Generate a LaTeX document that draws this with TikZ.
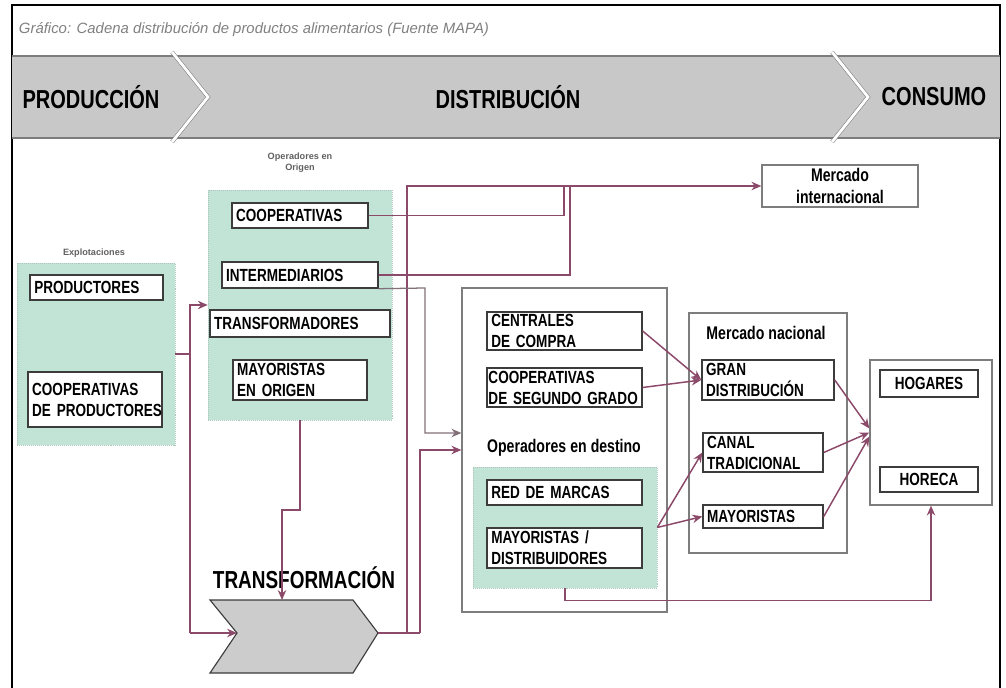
\documentclass[tikz,border=0pt]{standalone}
\usepackage{fontspec}
\usetikzlibrary{arrows.meta,positioning,calc}
\newfontfamily\condfont[FakeStretch=0.77]{Liberation Sans}
\newfontfamily\plainfont{Liberation Sans}
\newcommand{\boxfont}{\condfont\bfseries\fontsize{12.5}{15}\selectfont\hyphenpenalty=10000 \fontdimen2\font=2.7pt\relax}
\newcommand{\labfont}{\condfont\bfseries\fontsize{13}{15}\selectfont\fontdimen2\font=2.9pt\relax}
\newcommand{\bannerfont}{\condfont\bfseries\fontsize{18.5}{20}\selectfont}
\newcommand{\tagfont}{\plainfont\bfseries\fontsize{6.5}{8}\selectfont}

\definecolor{mint}{RGB}{194,228,214}
\definecolor{flowc}{RGB}{140,74,106}
\definecolor{boxline}{RGB}{60,60,60}
\definecolor{bigline}{RGB}{125,125,125}
\definecolor{bannerc}{RGB}{200,200,200}

\begin{document}
\begin{tikzpicture}[x=0.025cm,y=-0.025cm,
  >={Stealth[length=7pt,width=6pt]},
  item/.style={draw=boxline,line width=1pt,fill=white,font=\boxfont,
    align=left,inner xsep=3pt,inner ysep=0pt},
  greenbox/.style={fill=mint,draw=mint!70!gray,densely dotted,inner sep=0pt},
  bigbox/.style={draw=bigline,line width=0.9pt,fill=white,inner sep=0pt},
  flow/.style={draw=flowc,line width=1.05pt},
  greyflow/.style={draw=gray!70!flowc,line width=0.9pt},
  tag/.style={font=\tagfont,text=gray!75!black,align=center}]

\useasboundingbox (0,0) rectangle (1006,688);

% frame and title
\draw[line width=1.4pt] (12,688) -- (12,5) -- (1000,5) -- (1000,688);
\node[font=\plainfont\itshape\fontsize{10.6}{12}\selectfont,text=gray,anchor=west] (title) at (14,30)
  {Gráfico: Cadena distribución de productos alimentarios (Fuente MAPA)};

% banner
\fill[bannerc] (12,56) rectangle (1000,138);
\draw[bigline,line width=0.8pt] (12,56) -- (1000,56) (12,138) -- (1000,138);
\draw[gray,double=white,double distance=2pt] (172,52) -- (208,97) -- (172,142);
\draw[gray,double=white,double distance=2pt] (832,52) -- (868,97) -- (832,142);
\node[font=\bannerfont] (prodn) at (91,97) {PRODUCCIÓN};
\node[font=\bannerfont] (distr) at (508,97) {DISTRIBUCIÓN};
\node[font=\bannerfont] (consu) at (934,97) {CONSUMO};

% explotaciones
\node[tag] (explotag) at (94,253) {Explotaciones};
\node[greenbox,minimum width=3.95cm,minimum height=4.55cm] (explo) at (96,354) {};
\node[item,text width=3.11cm,minimum height=0.625cm] (prod) at (96.5,287.5) {PRODUCTORES};
\node[item,text width=3.14cm,minimum height=1.375cm] (coopprod) at (95,399.5) {COOPERATIVAS\\DE~PRODUCTORES};

% operadores en origen
\node[tag] (origtag) at (300,163) {Operadores en\\Origen};
\node[greenbox,minimum width=4.6cm,minimum height=5.75cm] (origen) at (300,305) {};
\node[item,text width=3.19cm,minimum height=0.625cm] (coop) at (300,215.5) {COOPERATIVAS};
\node[item,text width=3.69cm,minimum height=0.65cm] (interm) at (300,275) {INTERMEDIARIOS};
\node[item,text width=4.29cm,minimum height=0.675cm] (transf) at (300,323.5) {TRANSFORMADORES};
\node[item,text width=3.14cm,minimum height=1cm] (mayorig) at (300,380) {MAYORISTAS\\EN~ORIGEN};

% transformacion
\coordinate (tnotch) at (237,633);
\coordinate (ttip) at (378,633);
\coordinate (ttop) at (282,600);
\filldraw[fill=gray!40,draw=boxline,line width=0.8pt]
  (210,600) -- (353,600) -- (ttip) -- (353,673) -- (210,673) -- (tnotch) -- cycle;
\node[font=\condfont\bfseries\fontsize{17.5}{19}\selectfont] (transtxt) at (304,578) {TRANSFORMACIÓN};

% mercado internacional
\node[bigbox,font=\labfont,align=center,minimum width=3.9cm,minimum height=1.05cm] (intl) at (840,186) {Mercado\\internacional};

% operadores en destino
\node[bigbox,minimum width=5.125cm,minimum height=8.1cm] (destino) at (564.5,450) {};
\node[item,text width=3.66cm,minimum height=0.95cm] (centr) at (564.5,331) {CENTRALES\\DE~COMPRA};
\node[item,inner xsep=1pt,text width=3.8cm,minimum height=0.975cm] (coopseg) at (564.5,387.5) {COOPERATIVAS\\DE~SEGUNDO~GRADO};
\node[font=\labfont] (opdest) at (564,448) {Operadores en destino};
\node[greenbox,minimum width=4.6cm,minimum height=3.025cm] (destgreen) at (565,527.5) {};
\node[item,text width=3.66cm,minimum height=0.625cm] (red) at (564.5,492.5) {RED~DE~MARCAS};
\node[item,text width=3.66cm,minimum height=1cm] (maydist) at (564.5,548) {MAYORISTAS~/\\DISTRIBUIDORES};

% mercado nacional
\node[bigbox,minimum width=3.95cm,minimum height=6cm] (nacional) at (768,433) {};
\node[font=\labfont] (nactag) at (766,333) {Mercado nacional};
\node[item,text width=3.09cm,minimum height=1cm] (gran) at (768,380) {GRAN\\DISTRIBUCIÓN};
\node[item,text width=2.79cm,minimum height=0.975cm] (canal) at (763,452.5) {CANAL\\TRADICIONAL};
\node[item,text width=2.79cm,minimum height=0.575cm] (mayor) at (763,516.5) {MAYORISTAS};

% consumo
\node[bigbox,minimum width=3.05cm,minimum height=3.625cm] (consumo) at (931,432.5) {};
\node[item,align=center,text width=2.24cm,minimum height=0.675cm] (hog) at (929,383.5) {HOGARES};
\node[item,align=center,text width=2.24cm,minimum height=0.625cm] (hor) at (929,479.5) {HORECA};

% flows
\draw[flow] (explo.east) -| (190,633);
\draw[flow,->] (190,354) |- (origen.west);
\draw[flow,->] (190,633) -- (tnotch);
\draw[flow,->] (origen.south) -- (300,510) -| (ttop);
\draw[flow] (ttip) -- (420,633);
\draw[flow,->] (407,633) |- (intl.west);
\draw[flow,->] (420,633) |- (destino.west |- 0,450);
\draw[flow] (coop.east) -| (564,186);
\draw[flow] (interm.east) -| (570,186);
\draw[greyflow,->] (interm.south east) -- (425,288) |- (destino.west |- 0,433);
\draw[flow,->] (centr.east) -- (gran.west);
\draw[flow,->] (coopseg.east) -- (gran.west);
\draw[flow,->] (destgreen.east) -- (canal.west);
\draw[flow,->] (destgreen.east) -- (mayor.west);
\draw[flow,->] (gran.east) -- ($(consumo.west)+(0,-4)$);
\draw[flow,->] (canal.east) -- (consumo.west);
\draw[flow,->] (mayor.east) -- ($(consumo.west)+(0,4)$);
\draw[flow,->] (destgreen.south) -- ++(0,12) -| (consumo.south);

\end{tikzpicture}
\end{document}
